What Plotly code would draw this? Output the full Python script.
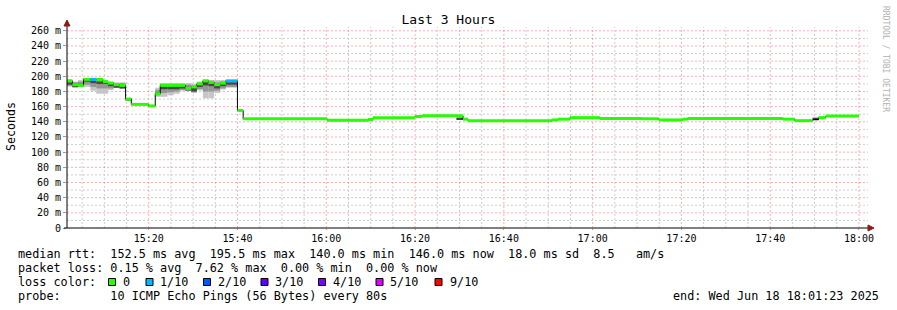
import pandas as pd
import plotly.graph_objects as go

DAY = "2025-06-18 "

# ---------------- data ----------------
med_start = [
    "15:01:35", "15:02:47", "15:04:04", "15:05:19", "15:06:50", "15:08:11",
    "15:09:41", "15:10:49", "15:12:05", "15:13:26", "15:14:47", "15:16:04",
    "15:19:57", "15:21:28", "15:22:35", "15:28:13", "15:29:34", "15:30:51",
    "15:32:12", "15:33:28", "15:34:44", "15:36:05", "15:37:23", "15:39:59",
    "15:41:16", "16:00:11", "16:09:25", "16:10:32", "16:19:59", "16:21:34",
    "16:30:48", "16:31:55", "16:50:50", "16:52:11", "16:54:53", "17:01:38",
    "17:11:05", "17:14:55", "17:20:19", "17:21:26", "17:42:49", "17:45:31",
    "17:49:34", "17:50:55", "17:52:30",
]
med_end = "18:00:00"
med_value = [
    194, 189, 188, 196, 196, 196,
    193, 191, 189, 188, 170, 163,
    161, 177, 188, 184, 186, 190,
    194, 192, 189, 191, 194, 155,
    144, 142, 143, 145.5, 147, 148,
    143.5, 141.5, 142.5, 143.5, 145.5, 144.5,
    144, 142.5, 143.5, 144.5, 143.5, 141.5,
    143, 145.5, 147.5,
]
# loss index per step (into loss_labels); None = no colour band visible
med_loss = [
    0, 0, 0, 0, 1, 0,
    0, 0, 0, 0, 0, 0,
    0, 0, 0, 0, 0, 0,
    0, 0, 0, 0, 1, 0,
    0, 0, 0, 0, 0, 0,
    0, 0, 0, 0, 0, 0,
    0, 0, 0, 0, 0, 0,
    None, 0, 0,
]

smoke_start = [
    "15:01:35", "15:02:47", "15:04:04", "15:05:19", "15:06:50", "15:08:11",
    "15:09:41", "15:10:49", "15:12:05", "15:13:26", "15:14:47",
    "15:21:28", "15:22:35", "15:24:12", "15:25:41", "15:26:58", "15:28:13",
    "15:29:34", "15:30:51", "15:32:12", "15:33:28", "15:34:44", "15:36:05",
    "15:37:23", "16:29:20", "17:49:34",
]
smoke_end = [
    "15:02:47", "15:04:04", "15:05:19", "15:06:50", "15:08:11", "15:09:41",
    "15:10:49", "15:12:05", "15:13:26", "15:14:47", "15:16:04",
    "15:22:35", "15:24:12", "15:25:41", "15:26:58", "15:28:13", "15:29:34",
    "15:30:51", "15:32:12", "15:33:28", "15:34:44", "15:36:05", "15:37:23",
    "15:39:59", "16:30:48", "17:50:55",
]
smoke_lo = [186.5, 185, 186, 186, 181, 177, 177, 182, 185, 184, 168,
            173, 173, 175, 177, 181, 182.6, 178, 181.5, 171, 171, 178, 182.6,
            185, 142.5, 141.5]
smoke_hi = [196, 193, 195, 197, 197, 197, 194, 193, 192, 192, 171,
            185, 191, 191, 191, 191, 191, 190, 193, 196, 195, 195, 195,
            195, 148, 146]
smoke_mid_lo = [187.5, 185.5, 186.5, 189, 186, 184, 184, 184, 185, 184, 168.5,
                175, 178, 179, 180, 182, 182.6, 179, 183, 180, 180, 181, 184,
                186, 143, 142]
smoke_mid_hi = [194, 192, 193, 197, 196, 196, 194, 192, 190, 191, 171,
                182, 190, 190, 190, 190, 189, 188, 192, 195, 194, 192, 193,
                194, 146, 145.5]
smoke_dark_lo = [189, 186, 187, 193, 191, 190, 190, 187, 185, 184, 169,
                 176, 183, 183, 183, 184, 181, 180, 186, 188, 187, 184, 187,
                 189, 143, 142.5]
smoke_dark_hi = [192, 191, 190, 197, 194, 193, 194, 190, 188, 189, 171,
                 179, 189, 189, 189, 189, 186, 185, 190, 193, 191, 188, 191,
                 192, 145, 145]

loss_labels = ["0", "1/10", "2/10", "3/10", "4/10", "5/10", "9/10"]
loss_colors = ["#26ff00", "#00b8ff", "#0059ff", "#5e00ff", "#7e00ff", "#dd00ff", "#ff0000"]

y_tickvals = [0, 20, 40, 60, 80, 100, 120, 140, 160, 180, 200, 220, 240, 260]
y_ticktext = ["0", "20 m", "40 m", "60 m", "80 m", "100 m", "120 m", "140 m",
              "160 m", "180 m", "200 m", "220 m", "240 m", "260 m"]
y_minor_vals = [10, 30, 50, 70, 90, 110, 130, 150, 170, 190, 210, 230, 250]
x_major_vals = ["15:20", "15:40", "16:00", "16:20", "16:40", "17:00",
                "17:20", "17:40", "18:00"]
x_minor_vals = ["15:05", "15:10", "15:15", "15:25", "15:30", "15:35",
                "15:45", "15:50", "15:55", "16:05", "16:10", "16:15",
                "16:25", "16:30", "16:35", "16:45", "16:50", "16:55",
                "17:05", "17:10", "17:15", "17:25", "17:30", "17:35",
                "17:45", "17:50", "17:55"]

title_text = "Last 3 Hours"
y_title = "Seconds"
stat_rtt = "median rtt:  152.5 ms avg  195.5 ms max  140.0 ms min  146.0 ms now  18.0 ms sd  8.5   am/s"
stat_loss = "packet loss: 0.15 % avg  7.62 % max  0.00 % min  0.00 % now"
stat_color = "loss color:"
stat_probe = "probe:       10 ICMP Echo Pings (56 Bytes) every 80s"
stat_end = "end: Wed Jun 18 18:01:23 2025"
watermark = "RRDTOOL / TOBI OETIKER"

# ---------------- helpers ----------------
def ts(s):
    return pd.Timestamp(DAY + s)

def seg_geom(starts, ends):
    st = [ts(s) for s in starts]
    en = [ts(e) for e in ends]
    centers = [a + (b - a) / 2 for a, b in zip(st, en)]
    widths = [(b - a).total_seconds() * 1000 for a, b in zip(st, en)]
    return centers, widths

# plot area in pixels
L, R, T, B = 67, 868, 27, 228
W, H = R - L, B - T

def px(x):
    return (x - L) / W

def py(y):
    return (B - y) / H

MONO = "DejaVu Sans Mono"

fig = go.Figure()

# smoke layers (bars drawn beneath the line traces)
sc, sw = seg_geom(smoke_start, smoke_end)
for lo, hi, col in [(smoke_lo, smoke_hi, "#c6c6c6"),
                    (smoke_mid_lo, smoke_mid_hi, "#959595"),
                    (smoke_dark_lo, smoke_dark_hi, "#464646")]:
    fig.add_trace(go.Bar(
        x=sc, width=sw, base=lo,
        y=[h - l for h, l in zip(hi, lo)],
        marker=dict(color=col, line=dict(width=0)), hoverinfo="skip"))

# median line (thin black, gives the vertical connectors)
all_t = [ts(s) for s in med_start] + [ts(med_end)]
fig.add_trace(go.Scatter(
    x=all_t, y=med_value + [med_value[-1]], mode="lines",
    line=dict(shape="hv", color="#000000", width=1), hoverinfo="skip"))

# loss colour band on the median: one horizontal stroke per step
seg_ends = med_start[1:] + [med_end]
for li, col in enumerate(loss_colors):
    xs, ys = [], []
    for s, e, v, l in zip(med_start, seg_ends, med_value, med_loss):
        if l == li:
            xs += [ts(s), ts(e), None]
            ys += [v, v, None]
    if xs:
        fig.add_trace(go.Scatter(x=xs, y=ys, mode="lines",
                                 line=dict(color=col, width=3),
                                 hoverinfo="skip", connectgaps=False))

major_c = "rgb(255,60,60)"
minor_c = "#cccccc"
DOT = "2px,2px"

fig.update_layout(
    width=897, height=310,
    margin=dict(l=L, r=897 - R, t=T, b=310 - B),
    paper_bgcolor="white", plot_bgcolor="white",
    barmode="overlay", showlegend=False,
    font=dict(family=MONO, size=10, color="#000000"),
    title=dict(text=title_text, x=0.5, xref="container", xanchor="center",
               y=1 - 19 / 310, yref="container", yanchor="middle",
               font=dict(family=MONO, size=13, color="#000000")),
    xaxis=dict(
        type="date",
        range=[ts("15:01:35"), ts("18:02:02")],
        tickvals=[ts(v) for v in x_major_vals], tickformat="%H:%M",
        showgrid=False,
        ticks="outside", ticklen=1, tickcolor="#e08080",
        showline=False, zeroline=False,
        tickfont=dict(family=MONO, size=10, color="#000000"),
    ),
    yaxis=dict(
        range=[0, 265],
        tickvals=y_tickvals, ticktext=y_ticktext,
        showgrid=False,
        ticks="outside", ticklen=3, tickcolor="#999999",
        showline=False, zeroline=False,
        tickfont=dict(family=MONO, size=10, color="#000000"),
    ),
)

shapes = []
# grid lines (drawn below the data)
for v in x_minor_vals:
    shapes.append(dict(type="line", xref="x", yref="paper", x0=ts(v), x1=ts(v),
                       y0=0, y1=1, layer="below",
                       line=dict(color=minor_c, width=1, dash=DOT)))
for v in y_minor_vals:
    shapes.append(dict(type="line", xref="paper", yref="y", x0=0, x1=1,
                       y0=v, y1=v, layer="below",
                       line=dict(color=minor_c, width=1, dash=DOT)))
for v in x_major_vals:
    shapes.append(dict(type="line", xref="x", yref="paper", x0=ts(v), x1=ts(v),
                       y0=0, y1=1, layer="below", opacity=0.4,
                       line=dict(color=major_c, width=1, dash=DOT)))
for v in y_tickvals[1:]:
    shapes.append(dict(type="line", xref="paper", yref="y", x0=0, x1=1,
                       y0=v, y1=v, layer="below", opacity=0.4,
                       line=dict(color=major_c, width=1, dash=DOT)))

# axis lines
shapes.append(dict(type="line", xref="paper", yref="paper", x0=px(64), x1=px(869),
                   y0=0, y1=0, line=dict(color="#000000", width=1), layer="above"))
shapes.append(dict(type="line", xref="paper", yref="paper", x0=0, x1=0,
                   y0=0, y1=py(23), line=dict(color="#000000", width=1), layer="above"))
# arrow heads
arrow_c = "#8b1a1a"
shapes.append(dict(type="path", xref="paper", yref="paper",
                   path=f"M {px(64)},{py(26)} L {px(70)},{py(26)} L {px(67)},{py(20)} Z",
                   fillcolor=arrow_c, line=dict(color=arrow_c, width=1), layer="above"))
shapes.append(dict(type="path", xref="paper", yref="paper",
                   path=f"M {px(868)},{py(225)} L {px(868)},{py(231)} L {px(874)},{py(228)} Z",
                   fillcolor=arrow_c, line=dict(color=arrow_c, width=1), layer="above"))

# loss colour legend squares
sq_x = [108.5, 146, 203.5, 261, 318.5, 376, 435]
lab_x = [120.7, 158.3, 215.7, 273, 330.7, 388.3, 448]
for xs_, col in zip(sq_x, loss_colors):
    shapes.append(dict(type="rect", xref="paper", yref="paper",
                       x0=px(xs_), x1=px(xs_ + 7), y0=py(285.5), y1=py(278.5),
                       fillcolor=col, line=dict(color="#000000", width=1)))
fig.update_layout(shapes=shapes)

NB = "\u00a0"
def nb(s):
    return s.replace(" ", NB)

ann = []
def text(x, y, s, xanchor="left", size=11.8, color="#000000", angle=0):
    ann.append(dict(x=px(x), y=py(y), xref="paper", yref="paper", text=nb(s),
                    showarrow=False, xanchor=xanchor, yanchor="middle",
                    textangle=angle,
                    font=dict(family=MONO, size=size, color=color)))

text(16, 254, stat_rtt)
text(16, 268, stat_loss)
text(16, 282, stat_color)
for lx, lab in zip(lab_x, loss_labels):
    text(lx, 282, lab)
text(16, 296, stat_probe)
text(881, 296, stat_end, xanchor="right")
ann.append(dict(x=px(11), y=py(127), xref="paper", yref="paper", text=y_title,
                showarrow=False, xanchor="center", yanchor="middle", textangle=-90,
                font=dict(family=MONO, size=11.6, color="#000000")))
ann.append(dict(x=px(886), y=py(59), xref="paper", yref="paper", text=nb(watermark),
                showarrow=False, xanchor="center", yanchor="middle", textangle=90,
                font=dict(family=MONO, size=8, color="#b0b0b0")))
fig.update_layout(annotations=ann)

fig.write_html("out.html")
